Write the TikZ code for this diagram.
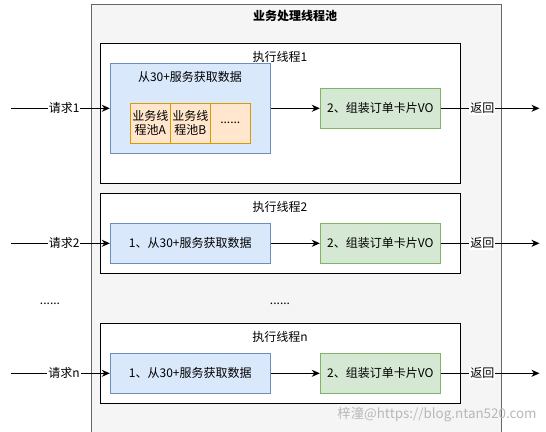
\documentclass[tikz,border=0pt]{standalone}
\usepackage{fontspec}
\setmainfont{Noto Sans CJK SC}
\usetikzlibrary{arrows.meta}
\definecolor{poolfill}{HTML}{F5F5F5}
\definecolor{poolline}{HTML}{666666}
\definecolor{bluefill}{HTML}{DAE8FC}
\definecolor{blueline}{HTML}{6C8EBF}
\definecolor{greenfill}{HTML}{D5E8D4}
\definecolor{greenline}{HTML}{82B366}
\definecolor{orangefill}{HTML}{FFE6CC}
\definecolor{orangeline}{HTML}{D79B00}
\definecolor{wmgray}{HTML}{B8B8B8}
\begin{document}
\begin{tikzpicture}[x=1pt,y=-1pt,
  font=\fontsize{12}{14}\selectfont,
  box/.style={rectangle, inner sep=0pt, line width=1pt},
  poolbox/.style={box, draw=poolline, fill=poolfill},
  threadbox/.style={box, draw=black, fill=white, minimum width=360, minimum height=80},
  fetchbox/.style={box, draw=blueline, fill=bluefill, minimum width=160, minimum height=40},
  bigfetch/.style={box, draw=blueline, fill=bluefill, minimum width=160, minimum height=90},
  buildbox/.style={box, draw=greenline, fill=greenfill, minimum width=120, minimum height=40},
  subpool/.style={box, draw=orangeline, fill=orangefill, minimum width=40, minimum height=40, align=center},
  title/.style={inner sep=0pt},
  elabel/.style={fill=white, inner sep=1pt},
  conn/.style={line width=1pt, -{Stealth[length=8pt,width=7pt,inset=2.5pt]}},
]
\useasboundingbox (0,0) rectangle (546,431);
\clip (0,0) rectangle (546,431);
\fill[white] (0,0) rectangle (546,431);

% pool
\node[poolbox, minimum width=410, minimum height=440, anchor=north west] (pool) at (90.5,3.5) {};
\node[title, font=\fontsize{12}{14}\selectfont\bfseries] (pooltitle) at (295,16) {业务处理线程池};

% thread 1
\node[threadbox, minimum height=140] (t1) at (280.5,113.3) {};
\node[title] (t1title) at (280,57) {执行线程1};
\node[bigfetch] (f1) at (190.3,108.3) {};
\node[title] (f1title) at (190,77) {从30+服务获取数据};
\node[subpool] (sa) at (150.3,123.3) {业务线\\程池A};
\node[subpool] (sb) at (190.3,123.3) {业务线\\程池B};
\node[subpool] (sc) at (230.3,123.3) {......};
\node[buildbox] (b1) at (380.3,108.3) {2、组装订单卡片VO};

% thread 2
\node[threadbox] (t2) at (280.5,233.3) {};
\node[title] (t2title) at (280,207) {执行线程2};
\node[fetchbox] (f2) at (190.3,243.3) {1、从30+服务获取数据};
\node[buildbox] (b2) at (380.3,243.3) {2、组装订单卡片VO};

% thread n
\node[threadbox] (tn) at (280.5,363.3) {};
\node[title] (tntitle) at (280,337) {执行线程n};
\node[fetchbox] (fn) at (190.3,373.3) {1、从30+服务获取数据};
\node[buildbox] (bn) at (380.3,373.3) {2、组装订单卡片VO};

% ellipses
\node[title] (dotsl) at (50,304) {......};
\node[title] (dotsm) at (280,304) {......};

% ends
\coordinate (in1) at (10.5,108.3);
\coordinate (in2) at (10.5,243.3);
\coordinate (inn) at (10.5,373.3);
\coordinate (out1) at (539.5,108.3);
\coordinate (out2) at (539.5,243.3);
\coordinate (outn) at (539.5,373.3);

% connectors
\draw[conn] (in1) -- node[elabel, pos=0.54] {请求1} (f1.west);
\draw[conn] (in2) -- node[elabel, pos=0.54] {请求2} (f2.west);
\draw[conn] (inn) -- node[elabel, pos=0.54] {请求n} (fn.west);
\draw[conn] (f1.east) -- (b1.west);
\draw[conn] (f2.east) -- (b2.west);
\draw[conn] (fn.east) -- (bn.west);
\draw[conn] (b1.east) -- node[elabel, pos=0.42] {返回} (out1);
\draw[conn] (b2.east) -- node[elabel, pos=0.42] {返回} (out2);
\draw[conn] (bn.east) -- node[elabel, pos=0.42] {返回} (outn);

% watermark
\node[title, text=wmgray, font=\fontsize{13.4}{15}\selectfont] (wm) at (437,414) {梓潼@https://blog.ntan520.com};
\end{tikzpicture}
\end{document}
